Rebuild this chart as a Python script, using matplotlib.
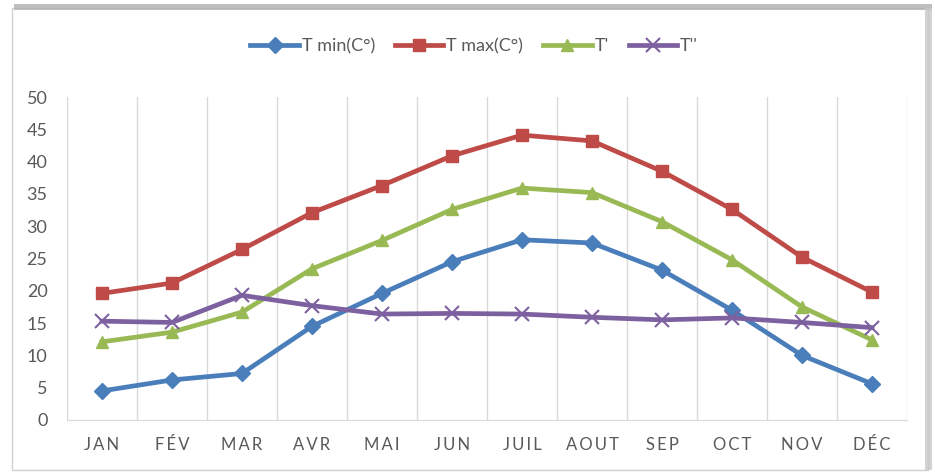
"""Monthly temperature curves (T min, T max, T', T'') drawn as an Excel-style line chart."""

import matplotlib

matplotlib.use("Agg")
import matplotlib.pyplot as plt
from matplotlib.lines import Line2D
from matplotlib.patches import Rectangle

plt.rcParams["font.family"] = ["Lato", "DejaVu Sans"]

MONTHS = ["JAN", "FÉV", "MAR", "AVR", "MAI", "JUN", "JUIL", "AOUT", "SEP", "OCT", "NOV", "DÉC"]
T_MIN = [4.5, 6.2, 7.2, 14.5, 19.6, 24.5, 27.9, 27.4, 23.2, 17.0, 10.0, 5.6]
T_MAX = [19.6, 21.2, 26.4, 32.1, 36.3, 40.9, 44.1, 43.2, 38.5, 32.6, 25.2, 19.8]
T_PRIME = [12.1, 13.6, 16.7, 23.4, 27.8, 32.6, 35.9, 35.2, 30.7, 24.8, 17.5, 12.4]
T_SECOND = [15.3, 15.1, 19.3, 17.7, 16.4, 16.5, 16.4, 15.9, 15.5, 15.8, 15.1, 14.3]
Y_TICKS = list(range(0, 51, 5))

SERIES = [
    ("T min(C°)", T_MIN, "#4a7ebb", "D", 8),
    ("T max(C°)", T_MAX, "#be4b48", "s", 9),
    ("T'", T_PRIME, "#98b954", "^", 9),
    ("T''", T_SECOND, "#7d60a0", "x", 10),
]

fig = plt.figure(figsize=(9.35, 4.72), dpi=100)

# chart frame with a soft shadow on the top and right sides
fig.patches.append(Rectangle((12 / 935, 1 - 470 / 472), 916 / 935, 462 / 472,
                             transform=fig.transFigure, fill=False,
                             edgecolor="#d0d0d0", lw=1.0, zorder=0))
fig.patches.append(Rectangle((14 / 935, 1 - 10 / 472), 918 / 935, 6 / 472,
                             transform=fig.transFigure, facecolor="#b0b0b0",
                             edgecolor="none", alpha=0.8, zorder=0))
fig.patches.append(Rectangle((925 / 935, 1 - 470 / 472), 7 / 935, 462 / 472,
                             transform=fig.transFigure, facecolor="#c8c8c8",
                             edgecolor="none", alpha=0.8, zorder=0))

ax = fig.add_axes([67 / 935, 1 - 420 / 472, 840 / 935, 323 / 472])
x = list(range(len(MONTHS)))

for label, values, color, marker, ms in SERIES:
    ax.plot(x, values, color=color, lw=3.4, marker=marker, ms=ms,
            mec=color, mew=1.5 if marker == "x" else 1, label=label, zorder=3)

ax.set_xlim(-0.5, len(MONTHS) - 0.5)
ax.set_ylim(0, 50)
ax.set_yticks(Y_TICKS)
ax.set_xticks(x)
ax.set_xticklabels(["\u2009".join(m) for m in MONTHS])

# vertical separators between months
for b in range(len(MONTHS) + 1):
    ax.axvline(b - 0.5, color="#d9d9d9", lw=1, zorder=1)

for side in ("top", "right", "left"):
    ax.spines[side].set_visible(False)
ax.spines["bottom"].set_color("#d9d9d9")
ax.tick_params(axis="both", length=0, colors="#595959", labelsize=12)
ax.tick_params(axis="y", labelsize=13, pad=14)
ax.tick_params(axis="x", pad=12)

handles = [Line2D([], [], color=c, lw=3.4, marker=m, ms=ms, mec=c,
                  mew=1.5 if m == "x" else 1) for _, _, c, m, ms in SERIES]
fig.legend(handles, [s[0] for s in SERIES], loc="center", ncol=4,
           bbox_to_anchor=(474 / 935, 1 - 46 / 472), frameon=False,
           fontsize=13, handlelength=2.7, columnspacing=1.1, handletextpad=0.15,
           labelcolor="#595959")

fig.savefig("out.png", dpi=100)
